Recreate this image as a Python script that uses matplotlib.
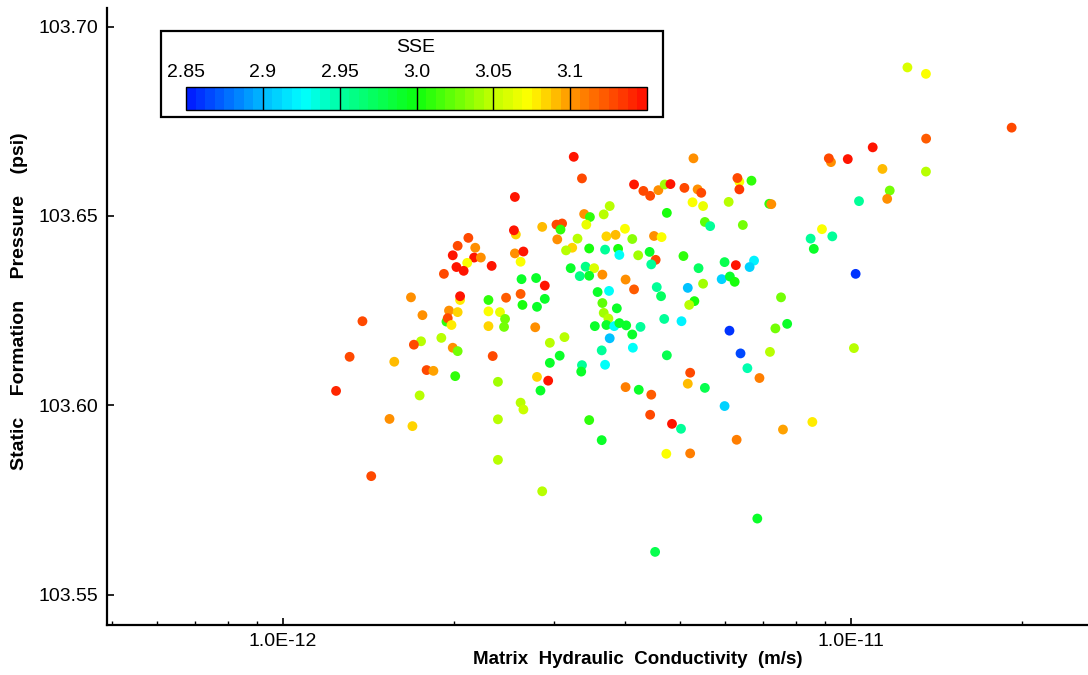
import numpy as np
import matplotlib
matplotlib.use('Agg')
import matplotlib.pyplot as plt
from matplotlib.colors import LinearSegmentedColormap, Normalize
from matplotlib.patches import Rectangle
from matplotlib.ticker import LogLocator, NullFormatter

plt.rcParams['font.family'] = ['Liberation Sans', 'DejaVu Sans']

# Matrix hydraulic conductivity in units of 1e-12 m/s
conductivity_e12 = [
    2.12, 2.03, 2.18, 1.99, 2.17, 2.23, 2.11, 2.02, 2.08, 2.33,
    1.92, 1.68, 2.05, 2.05, 2.30, 1.96, 2.03, 2.30, 2.41, 1.76,
    1.94, 1.95, 1.98, 2.30, 1.38, 1.90, 1.75, 1.70, 1.99, 2.03,
    1.31, 1.57, 2.34, 1.79, 1.84, 2.01, 2.39, 1.24, 1.74, 1.54,
    1.69, 2.39, 2.39, 1.43,
    3.25, 3.36, 4.15, 4.31, 4.43, 4.58, 2.56, 3.76, 3.67, 3.39,
    3.47, 3.42, 2.86, 3.03, 3.10, 3.08, 2.57, 2.55, 4.00, 3.71,
    3.85, 4.12, 4.50, 3.04, 3.30, 2.56, 2.65, 2.62, 3.23, 3.15,
    3.46, 3.69, 3.89, 3.91, 4.22, 4.42, 4.53, 4.45, 3.21, 3.41,
    3.53, 3.33, 3.46, 3.65, 2.63, 2.79, 2.89, 4.01, 4.15, 4.55,
    4.63, 2.47, 2.62, 2.89, 3.58, 3.75, 2.64, 2.80, 3.65, 3.67,
    3.87, 2.46, 2.45, 2.78, 3.74, 3.54, 3.71, 3.83, 3.91, 4.02,
    4.26, 4.12, 3.76, 3.13, 2.95, 3.07, 2.95, 4.13, 3.64, 3.36,
    3.35, 3.69, 2.80, 2.93, 2.84, 2.62, 4.01, 4.23, 4.45, 2.65,
    3.46, 4.43, 3.64, 2.86, 4.52,
    5.28, 9.22, 9.14, 4.70, 4.81, 5.09, 5.37, 5.45, 6.36, 6.31,
    6.36, 6.68, 5.26, 5.49, 6.09, 7.18, 7.24, 4.74, 5.53, 5.65,
    6.45, 4.64, 5.07, 8.89, 8.49, 9.27, 8.60, 5.39, 5.99, 6.27,
    6.75, 6.63, 5.49, 5.16, 5.92, 6.12, 6.24, 5.30, 5.19, 7.53,
    4.69, 5.03, 6.11, 7.36, 7.72, 6.39, 7.20, 4.74, 6.57, 5.21,
    5.16, 6.90, 5.53, 5.99, 4.84, 5.02, 7.59, 8.55, 6.29, 4.73,
    5.21, 6.84,
    12.57, 13.55, 19.18, 13.56, 10.92, 9.87, 11.36, 13.55, 11.70, 11.58,
    10.33, 10.19, 10.12,
]

# Static formation pressure (psi)
pressure = [
    103.6442, 103.6421, 103.6416, 103.6396, 103.6390, 103.6390, 103.6376, 103.6365, 103.6355, 103.6368,
    103.6347, 103.6285, 103.6278, 103.6288, 103.6278, 103.6250, 103.6246, 103.6248, 103.6246, 103.6238,
    103.6221, 103.6230, 103.6212, 103.6209, 103.6222, 103.6178, 103.6169, 103.6160, 103.6152, 103.6143,
    103.6128, 103.6115, 103.6130, 103.6093, 103.6091, 103.6077, 103.6062, 103.6038, 103.6026, 103.5964,
    103.5945, 103.5963, 103.5856, 103.5813,
    103.6656, 103.6599, 103.6583, 103.6566, 103.6553, 103.6568, 103.6550, 103.6526, 103.6504, 103.6505,
    103.6497, 103.6477, 103.6471, 103.6477, 103.6480, 103.6464, 103.6451, 103.6462, 103.6466, 103.6446,
    103.6450, 103.6439, 103.6447, 103.6438, 103.6440, 103.6401, 103.6406, 103.6379, 103.6416, 103.6409,
    103.6414, 103.6411, 103.6413, 103.6397, 103.6396, 103.6405, 103.6384, 103.6372, 103.6362, 103.6366,
    103.6362, 103.6341, 103.6342, 103.6345, 103.6333, 103.6336, 103.6316, 103.6332, 103.6306, 103.6312,
    103.6288, 103.6284, 103.6294, 103.6281, 103.6299, 103.6302, 103.6265, 103.6260, 103.6270, 103.6244,
    103.6256, 103.6228, 103.6207, 103.6206, 103.6229, 103.6209, 103.6212, 103.6209, 103.6217, 103.6211,
    103.6207, 103.6187, 103.6177, 103.6180, 103.6165, 103.6131, 103.6112, 103.6152, 103.6145, 103.6106,
    103.6089, 103.6107, 103.6075, 103.6065, 103.6039, 103.6007, 103.6048, 103.6041, 103.6028, 103.5989,
    103.5961, 103.5975, 103.5908, 103.5773, 103.5613,
    103.6652, 103.6642, 103.6652, 103.6583, 103.6584, 103.6574, 103.6570, 103.6561, 103.6590, 103.6600,
    103.6570, 103.6593, 103.6536, 103.6526, 103.6537, 103.6532, 103.6531, 103.6508, 103.6484, 103.6473,
    103.6476, 103.6444, 103.6394, 103.6465, 103.6440, 103.6446, 103.6413, 103.6362, 103.6378, 103.6370,
    103.6382, 103.6365, 103.6321, 103.6310, 103.6333, 103.6340, 103.6326, 103.6275, 103.6265, 103.6285,
    103.6228, 103.6222, 103.6197, 103.6203, 103.6215, 103.6137, 103.6141, 103.6132, 103.6098, 103.6086,
    103.6057, 103.6072, 103.6046, 103.5998, 103.5951, 103.5938, 103.5936, 103.5956, 103.5909, 103.5872,
    103.5873, 103.5701,
    103.6892, 103.6875, 103.6733, 103.6704, 103.6681, 103.6650, 103.6624, 103.6617, 103.6567, 103.6545,
    103.6539, 103.6347, 103.6151,
]

# Sum of squared errors (colour)
sse = [
    3.125, 3.125, 3.10, 3.145, 3.145, 3.10, 3.07, 3.145, 3.145, 3.145,
    3.125, 3.10, 3.075, 3.145, 3.01, 3.10, 3.085, 3.07, 3.065, 3.10,
    3.01, 3.125, 3.075, 3.085, 3.125, 3.045, 3.05, 3.13, 3.10, 3.03,
    3.13, 3.09, 3.125, 3.13, 3.095, 3.01, 3.04, 3.14, 3.045, 3.10,
    3.085, 3.045, 3.045, 3.13,
    3.145, 3.125, 3.145, 3.125, 3.125, 3.10, 3.145, 3.045, 3.045, 3.10,
    3.01, 3.065, 3.09, 3.125, 3.125, 3.01, 3.085, 3.145, 3.07, 3.085,
    3.09, 3.035, 3.10, 3.10, 3.045, 3.10, 3.145, 3.07, 3.085, 3.045,
    3.0, 2.95, 3.0, 2.93, 3.04, 2.99, 3.125, 2.95, 2.99, 2.96,
    3.06, 2.96, 2.99, 3.10, 2.99, 2.99, 3.145, 3.10, 3.12, 2.95,
    2.97, 3.12, 3.12, 2.99, 2.99, 2.93, 3.0, 2.99, 3.02, 3.04,
    2.99, 3.03, 3.03, 3.10, 3.05, 2.99, 2.99, 2.93, 2.99, 2.99,
    2.95, 2.99, 2.905, 3.045, 3.045, 2.99, 2.99, 2.93, 2.95, 2.95,
    2.99, 2.93, 3.085, 3.145, 2.99, 3.045, 3.11, 2.99, 3.12, 3.055,
    3.01, 3.13, 2.99, 3.045, 2.98,
    3.10, 3.10, 3.125, 3.04, 3.145, 3.125, 3.10, 3.125, 3.07, 3.125,
    3.135, 3.01, 3.07, 3.065, 3.045, 3.01, 3.10, 3.0, 3.02, 2.95,
    3.03, 3.07, 3.01, 3.07, 2.95, 2.955, 2.99, 2.97, 2.98, 3.145,
    2.92, 2.91, 3.04, 2.905, 2.91, 2.99, 3.0, 3.0, 3.045, 3.03,
    2.95, 2.925, 2.86, 3.03, 2.99, 2.865, 3.045, 2.98, 2.945, 3.125,
    3.09, 3.11, 2.98, 2.91, 3.145, 2.95, 3.095, 3.08, 3.11, 3.07,
    3.11, 2.99,
    3.06, 3.07, 3.125, 3.12, 3.145, 3.145, 3.09, 3.045, 3.03, 3.10,
    2.95, 2.86, 3.045,
]

sse_ticks = [2.85, 2.9, 2.95, 3.0, 3.05, 3.1]
sse_tick_labels = ['2.85', '2.9', '2.95', '3.0', '3.05', '3.1']
sse_range = (2.85, 3.15)
y_ticks = [103.55, 103.60, 103.65, 103.70]
y_tick_labels = ['103.55', '103.60', '103.65', '103.70']
x_ticks = [1e-12, 1e-11]
x_tick_labels = ['1.0E-12', '1.0E-11']

conductivity = np.array(conductivity_e12) * 1e-12

cmap = LinearSegmentedColormap.from_list('sse', [
    (0.0, (0.0, 0.12, 1.0)),
    (1 / 6, (0.0, 0.75, 1.0)),
    (0.25, (0.0, 1.0, 1.0)),
    (1 / 3, (0.0, 1.0, 0.62)),
    (0.5, (0.05, 1.0, 0.05)),
    (2 / 3, (0.75, 1.0, 0.0)),
    (0.75, (1.0, 1.0, 0.0)),
    (5 / 6, (1.0, 0.62, 0.0)),
    (1.0, (1.0, 0.08, 0.0)),
], N=48)
norm = Normalize(*sse_range)

W, H = 1088, 675
fig = plt.figure(figsize=(W / 100, H / 100), dpi=100)
ax_left, ax_right, ax_bottom, ax_top = 107, 1088, 624.5, 8
ax = fig.add_axes([ax_left / W, (H - ax_bottom) / H,
                   (ax_right - ax_left) / W, (ax_bottom - ax_top) / H])
ax.set_xscale('log')
ax.set_xlim(10 ** (-12 - 176 / 568), 10 ** (-12 + 805 / 568))
ax.set_ylim(103.6 + (405.3 - 624.5) * 0.000264, 103.6 + (405.3 - 8) * 0.000264)

ax.scatter(conductivity, pressure, c=sse, cmap=cmap, norm=norm,
           s=50, linewidths=0, zorder=3)

for side in ('top', 'right'):
    ax.spines[side].set_visible(False)
for side in ('left', 'bottom'):
    ax.spines[side].set_linewidth(1.6)

ax.set_xticks(x_ticks, x_tick_labels)
ax.xaxis.set_minor_locator(LogLocator(base=10, subs=np.arange(2, 10), numticks=20))
ax.xaxis.set_minor_formatter(NullFormatter())
ax.set_yticks(y_ticks, y_tick_labels)
ax.tick_params(which='major', direction='in', length=5, width=1.2,
               labelsize=14, pad=6, colors='black')
ax.tick_params(which='minor', direction='in', length=3, width=1.0)

ax.set_xlabel('Matrix  Hydraulic  Conductivity  (m/s)', fontsize=13.5, fontweight='bold')
ax.xaxis.label.set_va('center')
ax.xaxis.set_label_coords((638 - ax_left) / (ax_right - ax_left), (ax_bottom - 660) / (ax_bottom - ax_top))
ax.set_ylabel('Static    Formation    Pressure    (psi)', fontsize=14, fontweight='bold')
ax.yaxis.label.set_va('center')
ax.yaxis.set_label_coords((20 - ax_left) / (ax_right - ax_left), (ax_bottom - 301) / (ax_bottom - ax_top))

# colour bar legend box
fig.add_artist(Rectangle((161 / W, (H - 117) / H), 502 / W, 86 / H,
                         transform=fig.transFigure, facecolor='white',
                         edgecolor='black', linewidth=1.6, zorder=5))
cax = fig.add_axes([186 / W, (H - 110) / H, 461 / W, 23 / H], zorder=6)
sm = matplotlib.cm.ScalarMappable(norm=norm, cmap=cmap)
cb = fig.colorbar(sm, cax=cax, orientation='horizontal')
cb.set_ticks(sse_ticks, labels=sse_tick_labels)
cax.minorticks_off()
cax.xaxis.set_ticks_position('top')
cax.tick_params(length=0, labelsize=14, pad=4)
for v in sse_ticks[1:]:
    cax.axvline(v, color='black', linewidth=1.0)
cb.outline.set_linewidth(1.0)
fig.text(416 / W, 1 - 47 / H, 'SSE', ha='center', va='center', fontsize=14, zorder=7)

fig.savefig('out.png', dpi=100)
